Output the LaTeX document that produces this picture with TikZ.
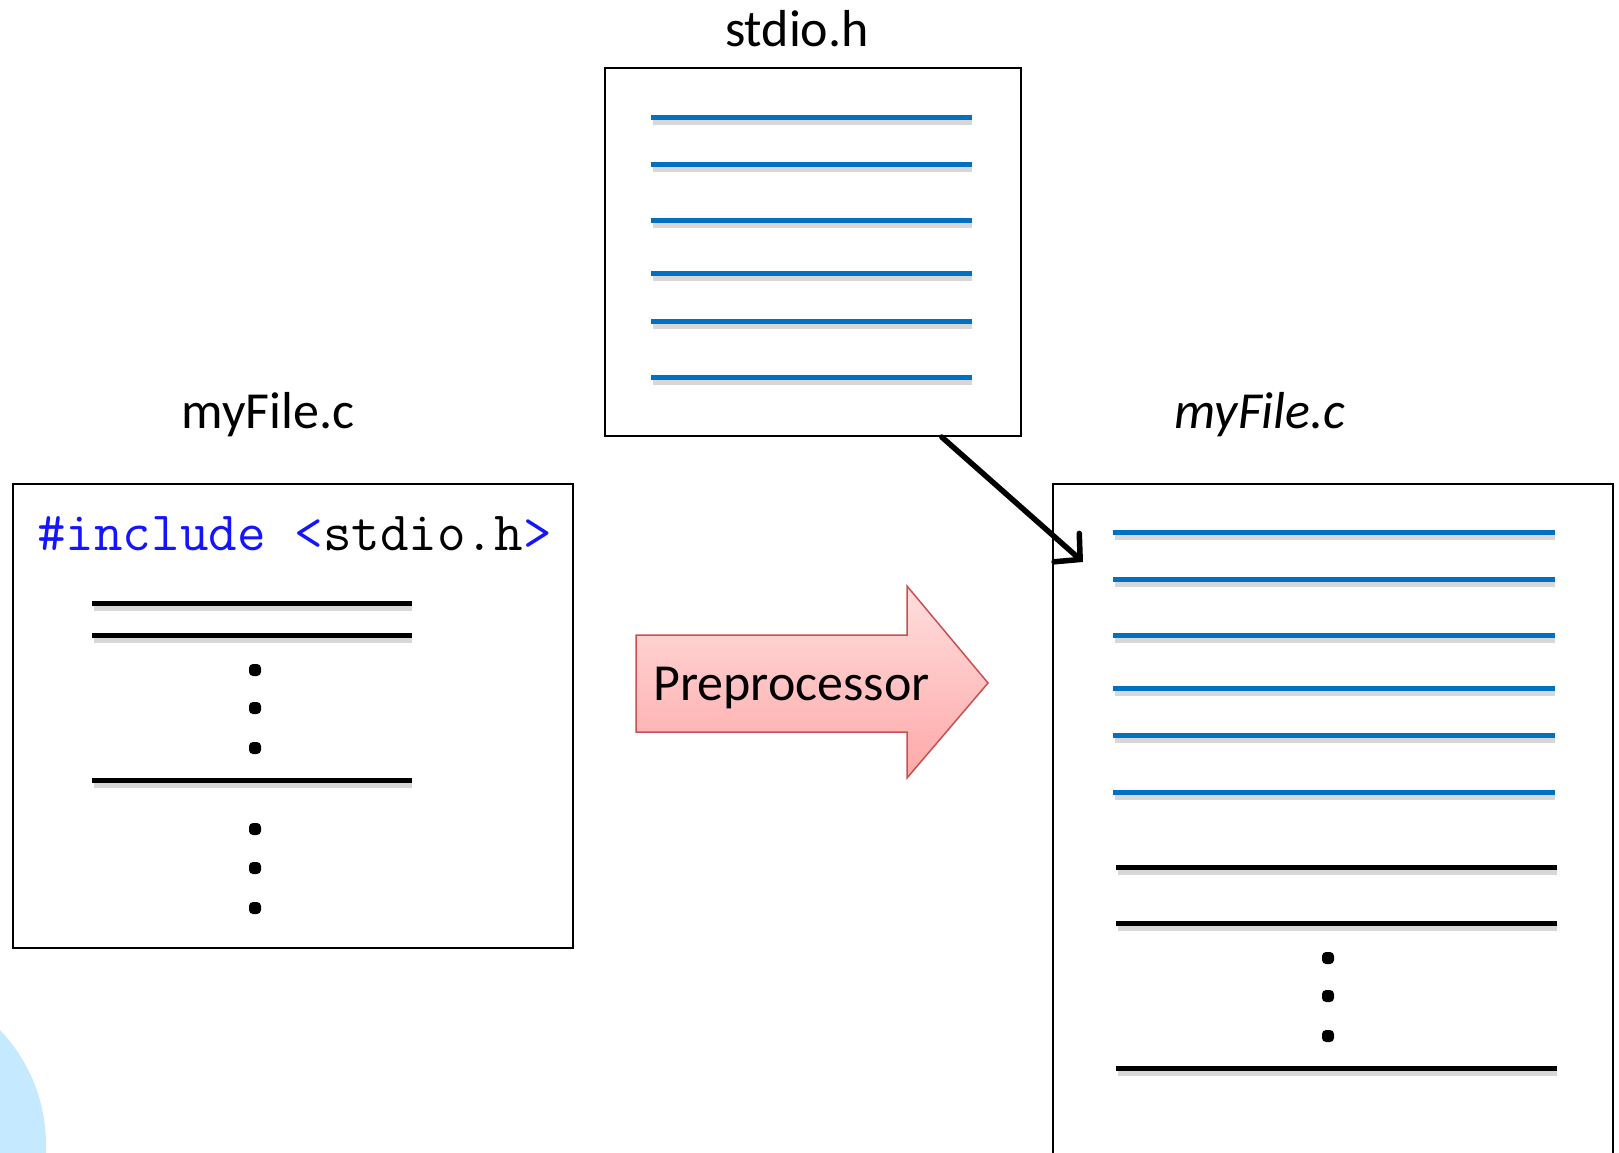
\documentclass[tikz,border=0pt]{standalone}
\usepackage{fontspec}
\setmainfont{Carlito}
\usetikzlibrary{arrows.meta,calc}

\definecolor{hdrblue}{RGB}{0,112,192}
\definecolor{codeblue}{RGB}{20,20,255}
\definecolor{arrowedge}{RGB}{200,80,80}
\definecolor{pinktop}{RGB}{255,222,222}
\definecolor{pinkbot}{RGB}{255,168,168}
\definecolor{bubble}{RGB}{197,233,255}

\begin{document}
\begin{tikzpicture}[x=1pt,y=-1pt,
  filebox/.style={draw=black,line width=2pt,inner sep=0pt,anchor=north west},
  hdrline/.style={draw=hdrblue,line width=5pt},
  srcline/.style={draw=black,line width=5pt},
  shadowline/.style={draw=black!35,line width=5pt,opacity=0.45},
  dotmark/.style={rectangle,rounded corners=4pt,fill=black,inner sep=0pt,minimum size=12pt},
  caption/.style={font=\fontsize{52}{60}\selectfont,anchor=base},
  codetext/.style={font=\ttfamily\fontsize{55.5}{62}\selectfont,anchor=base west,inner sep=0pt}]

\useasboundingbox (0,0) rectangle (1619,1152);
\clip (0,0) rectangle (1619,1152);

% light bubble in the lower left corner
\fill[bubble] (-121,1145) circle (167);

% ---------- header file ----------
\node[caption] (stdiolabel) at (797,46) {stdio.h};
\node[filebox,minimum width=416pt,minimum height=368pt] (stdiobox) at (604,67) {};
\foreach \y in {117,164,220,273,321,377}{
  \draw[shadowline] (653,\y+5) -- (972,\y+5);
  \draw[hdrline] (651,\y) -- (972,\y);
}

% ---------- source file ----------
\node[caption] (srclabel) at (268,428) {myFile.c};
\node[filebox,minimum width=560pt,minimum height=464pt] (srcbox) at (12,483) {};
\node[codetext] (include) at (37,550)
  {\textcolor{codeblue}{\#include <}stdio.h\textcolor{codeblue}{>}};
\foreach \y in {603,635,780}{
  \draw[shadowline] (94,\y+5) -- (412,\y+5);
  \draw[srcline] (92,\y) -- (412,\y);
}
\foreach \y [count=\i] in {670,708,748,829,868,908}
  \node[dotmark] (sdot\i) at (255,\y) {};

% ---------- preprocessor arrow ----------
\path[draw=arrowedge,line width=1.5pt,top color=pinktop,bottom color=pinkbot]
  (636,635) -- (907,635) -- (907,586) -- (988,683) -- (907,778)
  -- (907,732) -- (636,732) -- cycle;
\node[font=\fontsize{52}{60}\selectfont,anchor=base west,inner sep=0pt]
  (pplabel) at (653,700) {Preprocessor};

% ---------- preprocessed file ----------
\node[caption,font=\itshape\fontsize{52}{60}\selectfont] (outlabel) at (1260,428) {myFile.c};
\node[filebox,minimum width=560pt,minimum height=700pt] (outbox) at (1052,483) {};
\foreach \y in {532,579,635,688,735,792}{
  \draw[shadowline] (1115,\y+5) -- (1555,\y+5);
  \draw[hdrline] (1113,\y) -- (1555,\y);
}
\foreach \y in {867,923,1068}{
  \draw[shadowline] (1118,\y+5) -- (1557,\y+5);
  \draw[srcline] (1116,\y) -- (1557,\y);
}
\foreach \y [count=\i] in {958,996,1036}
  \node[dotmark] (odot\i) at (1328,\y) {};

% ---------- inclusion arrow ----------
\coordinate (inctip) at (1083,562);
\draw[line width=5.5pt,line cap=round,-{Straight Barb[length=18pt,width=38pt,line cap=round]}]
  ($(stdiobox.south west)!0.808!(stdiobox.south east)$) -- (inctip);

\end{tikzpicture}
\end{document}
